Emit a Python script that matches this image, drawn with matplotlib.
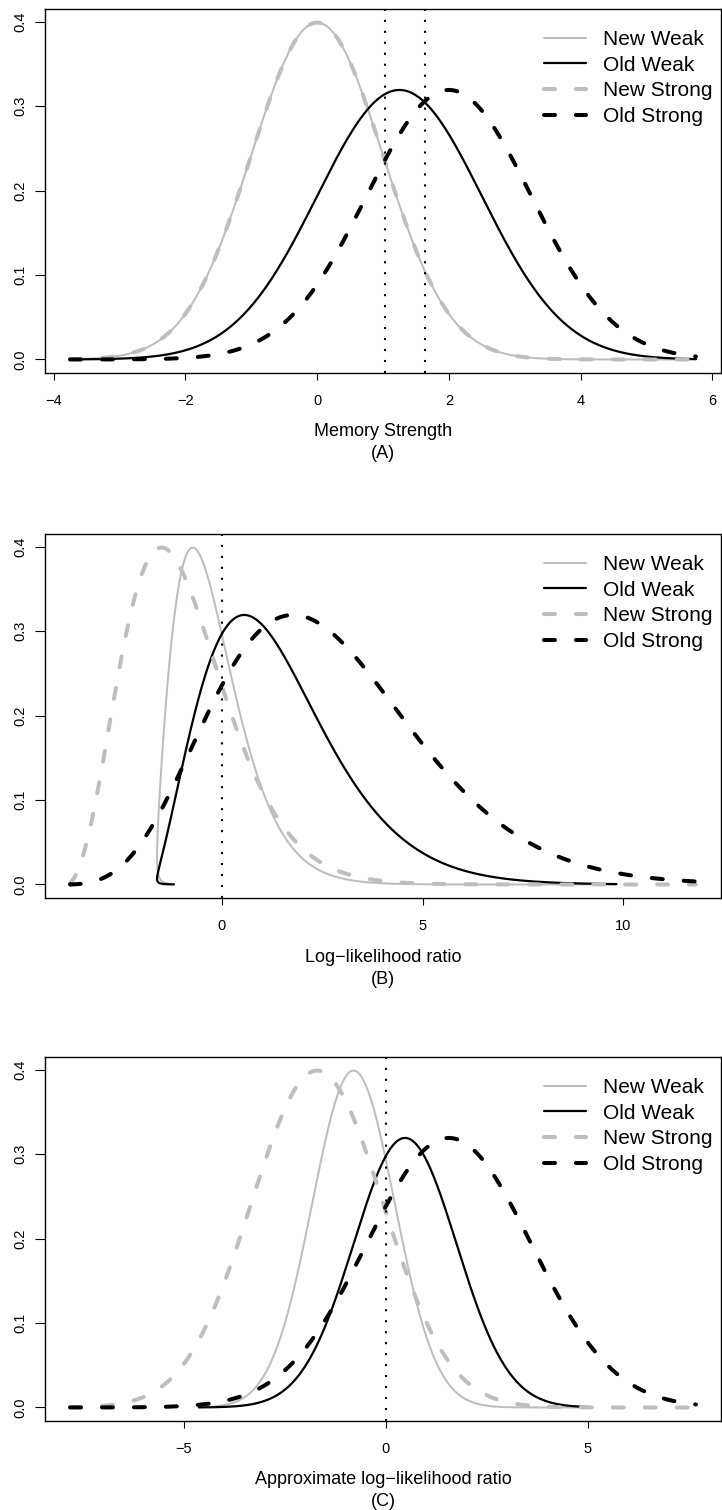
import numpy as np
import matplotlib
matplotlib.use("Agg")
import matplotlib.pyplot as plt

# ---- data ----
# memory-strength range used for every curve
x_lo, x_hi = -3.75, 5.75
labels = ["New Weak", "Old Weak", "New Strong", "Old Strong"]
means = [0.0, 1.25, 0.0, 2.0]
sds = [1.0, 1.25, 1.0, 1.25]
condition = ["weak", "weak", "strong", "strong"]
# old-item distribution for each strength condition (new items are N(0, 1))
old_mean = {"weak": 1.25, "strong": 2.0}
old_sd = {"weak": 1.25, "strong": 1.25}
# criteria drawn as dotted lines
criteria_a = [1.03, 1.63]
criteria_b = [0.0]
criteria_c = [0.0]
# approximate log-likelihood ratio, a straight line in memory strength
approx_slope = {"weak": 1.02, "strong": 1.63}
approx_icpt = {"weak": -0.80, "strong": -1.70}

xticks_a = [-4, -2, 0, 2, 4, 6]
xticks_b = [0, 5, 10]
xticks_c = [-5, 0, 5]
yticks = [0.0, 0.1, 0.2, 0.3, 0.4]

# ---- styles ----
GRAY = "#bebebe"
colors = [GRAY, "black", GRAY, "black"]
widths = [1.45, 1.6, 2.9, 2.9]
dashed = [False, False, True, True]

plt.rcParams["font.family"] = ["Liberation Sans", "DejaVu Sans"]
plt.rcParams["lines.scale_dashes"] = False


def npdf(x, m, s):
    return np.exp(-0.5 * ((x - m) / s) ** 2) / (s * np.sqrt(2 * np.pi))


def llr(x, cond):
    return np.log(npdf(x, old_mean[cond], old_sd[cond])) - np.log(npdf(x, 0.0, 1.0))


def approx_llr(x, cond):
    return approx_slope[cond] * x + approx_icpt[cond]


grid = np.linspace(x_lo, x_hi, 600)

fig = plt.figure(figsize=(7.22, 15.10), dpi=100)
left, width, height = 45 / 722, 676 / 722, 364 / 1510
bottoms = [1 - 373 / 1510, 1 - 898 / 1510, 1 - 1421 / 1510]

panels = [
    ("Memory Strength", "(A)", lambda x, c: x, criteria_a, xticks_a),
    ("Log\u2212likelihood ratio", "(B)", llr, criteria_b, xticks_b),
    ("Approximate log\u2212likelihood ratio", "(C)", approx_llr, criteria_c, xticks_c),
]

for (xlabel, tag, transform, crits, xt), bottom in zip(panels, bottoms):
    ax = fig.add_axes([left, bottom, width, height])
    handles = []
    for i in range(4):
        xs = transform(grid, condition[i])
        ys = npdf(grid, means[i], sds[i])
        if dashed[i]:
            ln, = ax.plot(xs, ys, color=colors[i], lw=widths[i],
                          dashes=(7.9, 15.1), dash_capstyle="round",
                          solid_capstyle="round", label=labels[i])
        else:
            ln, = ax.plot(xs, ys, color=colors[i], lw=widths[i],
                          solid_capstyle="round", label=labels[i])
        handles.append(ln)
    for c in crits:
        ax.axvline(c, color="black", lw=1.5, dashes=(1.5, 6.4))

    ax.margins(x=0.04)
    ax.set_ylim(-0.016, 0.415)
    ax.set_xticks(xt)
    ax.set_xticklabels([("\u2212" if v < 0 else "") + str(abs(v)) for v in xt])
    ax.set_yticks(yticks)
    ax.set_yticklabels(["%.1f" % v for v in yticks])
    ax.tick_params(axis="x", length=5, width=0.8, pad=10, labelsize=10.5)
    ax.tick_params(axis="y", length=7, width=0.8, pad=6, labelsize=10.5,
                   labelrotation=90)
    for lab in ax.get_yticklabels():
        lab.set_va("center")
    for sp in ax.spines.values():
        sp.set_linewidth(1.0)

    ax.annotate(xlabel, xy=(0.5, 0), xycoords="axes fraction",
                xytext=(0, -59 * 0.72), textcoords="offset points",
                ha="center", va="center", fontsize=13)
    ax.annotate(tag, xy=(0.5, 0), xycoords="axes fraction",
                xytext=(0, -81 * 0.72), textcoords="offset points",
                ha="center", va="center", fontsize=13)

    ax.legend(handles=handles, loc="upper right",
              bbox_to_anchor=(0.988, 0.942), frameon=False, fontsize=15,
              handlelength=2.0, handletextpad=0.85, labelspacing=0.32,
              borderpad=0, borderaxespad=0)

fig.savefig("out.png", dpi=100)
